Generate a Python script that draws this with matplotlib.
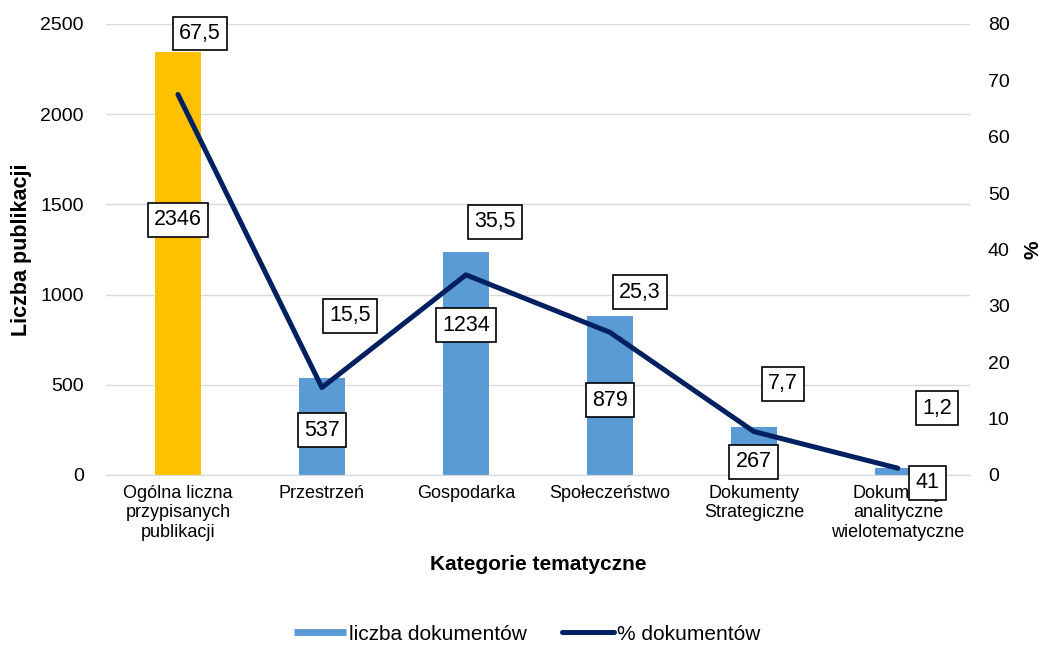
import matplotlib.pyplot as plt
from matplotlib.lines import Line2D
import numpy as np

plt.rcParams['font.family'] = ['Liberation Sans', 'DejaVu Sans']

# === data ===
categories = ["Ogólna liczna\nprzypisanych\npublikacji", "Przestrzeń", "Gospodarka",
              "Społeczeństwo", "Dokumenty\nStrategiczne", "Dokumenty\nanalityczne\nwielotematyczne"]
counts = [2346, 537, 1234, 879, 267, 41]
percents = [67.5, 15.5, 35.5, 25.3, 7.7, 1.2]
pct_labels = ["67,5", "15,5", "35,5", "25,3", "7,7", "1,2"]

# label offsets in pixels (as placed in the original)
bar_lbl_off = [(0, -168), (0, -52), (0, -73), (0, -84), (0, -35), (30, -15)]
pct_lbl_off = [(22, 61), (28, 72), (29, 53), (30, 40), (29, 48), (39, 60)]

bar_colors = ["#FFC000"] + ["#5B9BD5"] * 5
blue = "#5B9BD5"
line_color = "#002060"

fig = plt.figure(figsize=(10.44, 6.45), dpi=100)
ax = fig.add_axes([0.1015, 0.2636, 0.8275, 0.6992])
x = np.arange(len(categories))

ax.bar(x, counts, width=0.32, color=bar_colors, zorder=2)
ax.set_ylim(0, 2500)
ax.set_yticks(range(0, 2501, 500))
ax.set_xlim(-0.5, len(categories) - 0.5)
ax.set_xticks(x)
ax.set_xticklabels(categories, fontsize=13, linespacing=1.2)
ax.grid(axis='y', color='#d9d9d9', linewidth=1, zorder=0)
ax.set_axisbelow(True)
for s in ['top', 'left', 'right']:
    ax.spines[s].set_visible(False)
ax.spines['bottom'].set_color('#d9d9d9')
ax.tick_params(axis='both', length=0)
ax.tick_params(axis='y', pad=16, labelsize=14)
ax.tick_params(axis='x', pad=7)
ax.set_ylabel("Liczba publikacji", fontsize=15.5, fontweight='bold', labelpad=6)
ax.set_xlabel("Kategorie tematyczne", fontsize=15, fontweight='bold', labelpad=10)

ax2 = ax.twinx()
ax2.plot(x, percents, color=line_color, linewidth=3.6, solid_capstyle='round', zorder=3)
ax2.set_ylim(0, 80)
ax2.set_yticks(range(0, 81, 10))
ax2.tick_params(axis='y', length=0, labelsize=14, pad=13)
for s in ['top', 'left', 'right', 'bottom']:
    ax2.spines[s].set_visible(False)
ax2.set_ylabel("%", fontsize=15, fontweight='bold', labelpad=10)

box = dict(boxstyle='square,pad=0.3', fc='white', ec='black', lw=1.2)
for i in range(len(categories)):
    ax2.annotate(str(counts[i]), (x[i], counts[i]), xycoords=ax.transData,
                 xytext=bar_lbl_off[i], textcoords='offset pixels',
                 ha='center', va='center', fontsize=15.5, bbox=box, zorder=5)
    ax2.annotate(pct_labels[i], (x[i], percents[i]), xycoords=ax2.transData,
                 xytext=pct_lbl_off[i], textcoords='offset pixels',
                 ha='center', va='center', fontsize=15.5, bbox=box, zorder=5)

handles = [Line2D([], [], color=blue, linewidth=5, solid_capstyle='butt'),
           Line2D([], [], color=line_color, linewidth=3.6, solid_capstyle='round')]
fig.legend(handles, ["liczba dokumentów", "% dokumentów"], loc='center',
           bbox_to_anchor=(0.505, 0.017), ncol=2, frameon=False, fontsize=15,
           handlelength=2.5, handletextpad=0.15, columnspacing=1.7)

fig.savefig("out.png", dpi=100)
